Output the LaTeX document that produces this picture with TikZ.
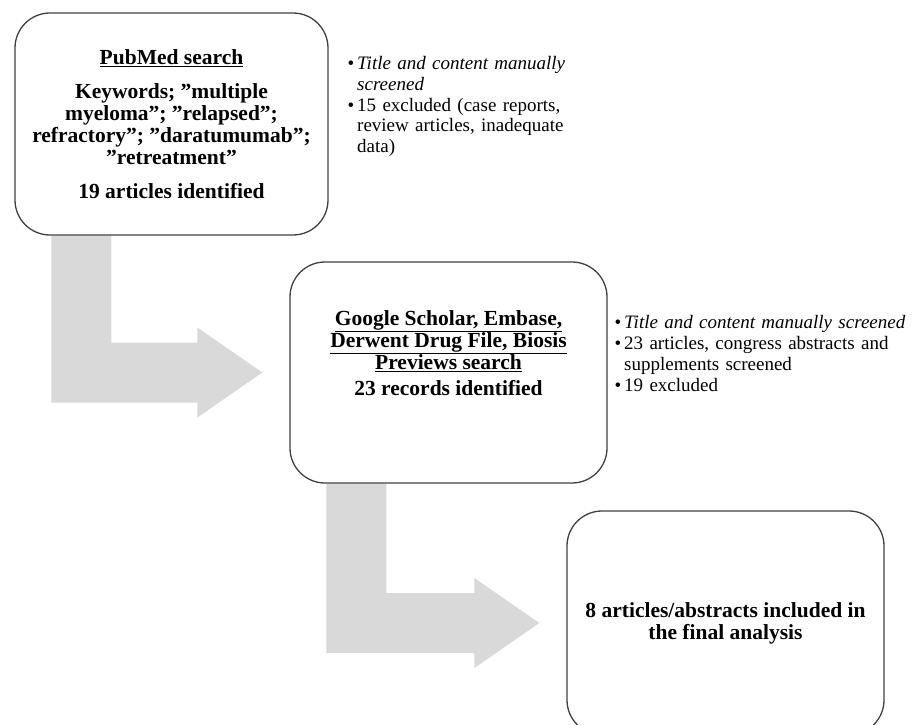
\documentclass[tikz,border=0pt]{standalone}
\usepackage{fontspec}
\setmainfont{Liberation Serif}
\usepackage{enumitem}
\usetikzlibrary{calc,backgrounds}

\definecolor{flowgray}{RGB}{217,217,217}
\definecolor{boxline}{RGB}{64,64,64}

\tikzset{
  searchbox/.style={draw=boxline, line width=1.3pt, rounded corners=35pt},
  searchtext/.style={align=center, font=\bfseries\fontsize{21.5}{22}\selectfont},
  notes/.style={anchor=north west, inner sep=0pt, align=left, font=\fontsize{19}{20.7}\selectfont},
  flow/.style={fill=flowgray}
}

\setlist[itemize]{label=\textbullet, leftmargin=12pt, labelsep=3pt, itemsep=0pt, topsep=0pt, parsep=0pt, partopsep=0pt, before=\raggedright}

\begin{document}
\begin{tikzpicture}[x=1pt, y=-1pt]
    % Define parameters
    \def\barWidth{60}   % Width of the gray flow bars
    \def\barHalf{30}    % Half height of the horizontal bar
    \def\headHalf{45}   % Half height of the arrow head
    \def\headLength{65} % Length of the arrow head
    \def\barOffset{37}  % Distance of the bar from the box corner
    \def\tipGap{27}     % Gap between arrow tip and next box

    \useasboundingbox (0,0) rectangle (914,725);

    % Draw search boxes
    \node[searchbox, searchtext, minimum width=313pt, minimum height=222pt] (pub) at (171.5,124) {\underline{PubMed search}\\[12pt] Keywords; ''multiple\\ myeloma''; ''relapsed'';\\ refractory''; ''daratumumab'';\\ ''retreatment''\\[12pt] 19 articles identified};

    \node[searchbox, minimum width=317pt, minimum height=221pt] (scholar) at (448.5,372.5) {};
    \node[searchtext] (scholartext) at (448.5,353) {\underline{Google Scholar, Embase,}\\ \underline{Derwent Drug File, Biosis}\\ \underline{Previews search}\\[4pt] 23 records identified};

    \node[searchbox, searchtext, minimum width=317pt, minimum height=224pt] (final) at (725.5,623) {8 articles/abstracts included in\\ the final analysis};

    % Draw notes beside the boxes
    \node[notes, text width=240pt] (pubnotes) at (345,49) {\begin{itemize}
        \item \textit{Title and content manually\\ screened}
        \item 15 excluded (case reports,\\ review articles, inadequate\\ data)
    \end{itemize}};
    \node[notes, text width=300pt] (scholarnotes) at (612,308) {\begin{itemize}
        \item \textit{Title and content manually screened}
        \item 23 articles, congress abstracts and\\ supplements screened
        \item 19 excluded
    \end{itemize}};

    % Draw gray flow arrows
    \begin{scope}[on background layer]
    \foreach \from/\to in {pub/scholar, scholar/final} {
        \fill[flow] let \p1 = ($(\from.south west)+(\barOffset,0)$), \p2 = ($(\to.west)+(-\tipGap,0)$) in
            (\x1,\y1) -- (\x1+\barWidth,\y1) -- (\x1+\barWidth,\y2+\barHalf) -- (\x2-\headLength,\y2+\barHalf)
            -- (\x2-\headLength,\y2+\headHalf) -- (\x2,\y2) -- (\x2-\headLength,\y2-\headHalf)
            -- (\x2-\headLength,\y2-\barHalf) -- (\x1,\y2-\barHalf) -- cycle;
    }
    \end{scope}
\end{tikzpicture}
\end{document}
